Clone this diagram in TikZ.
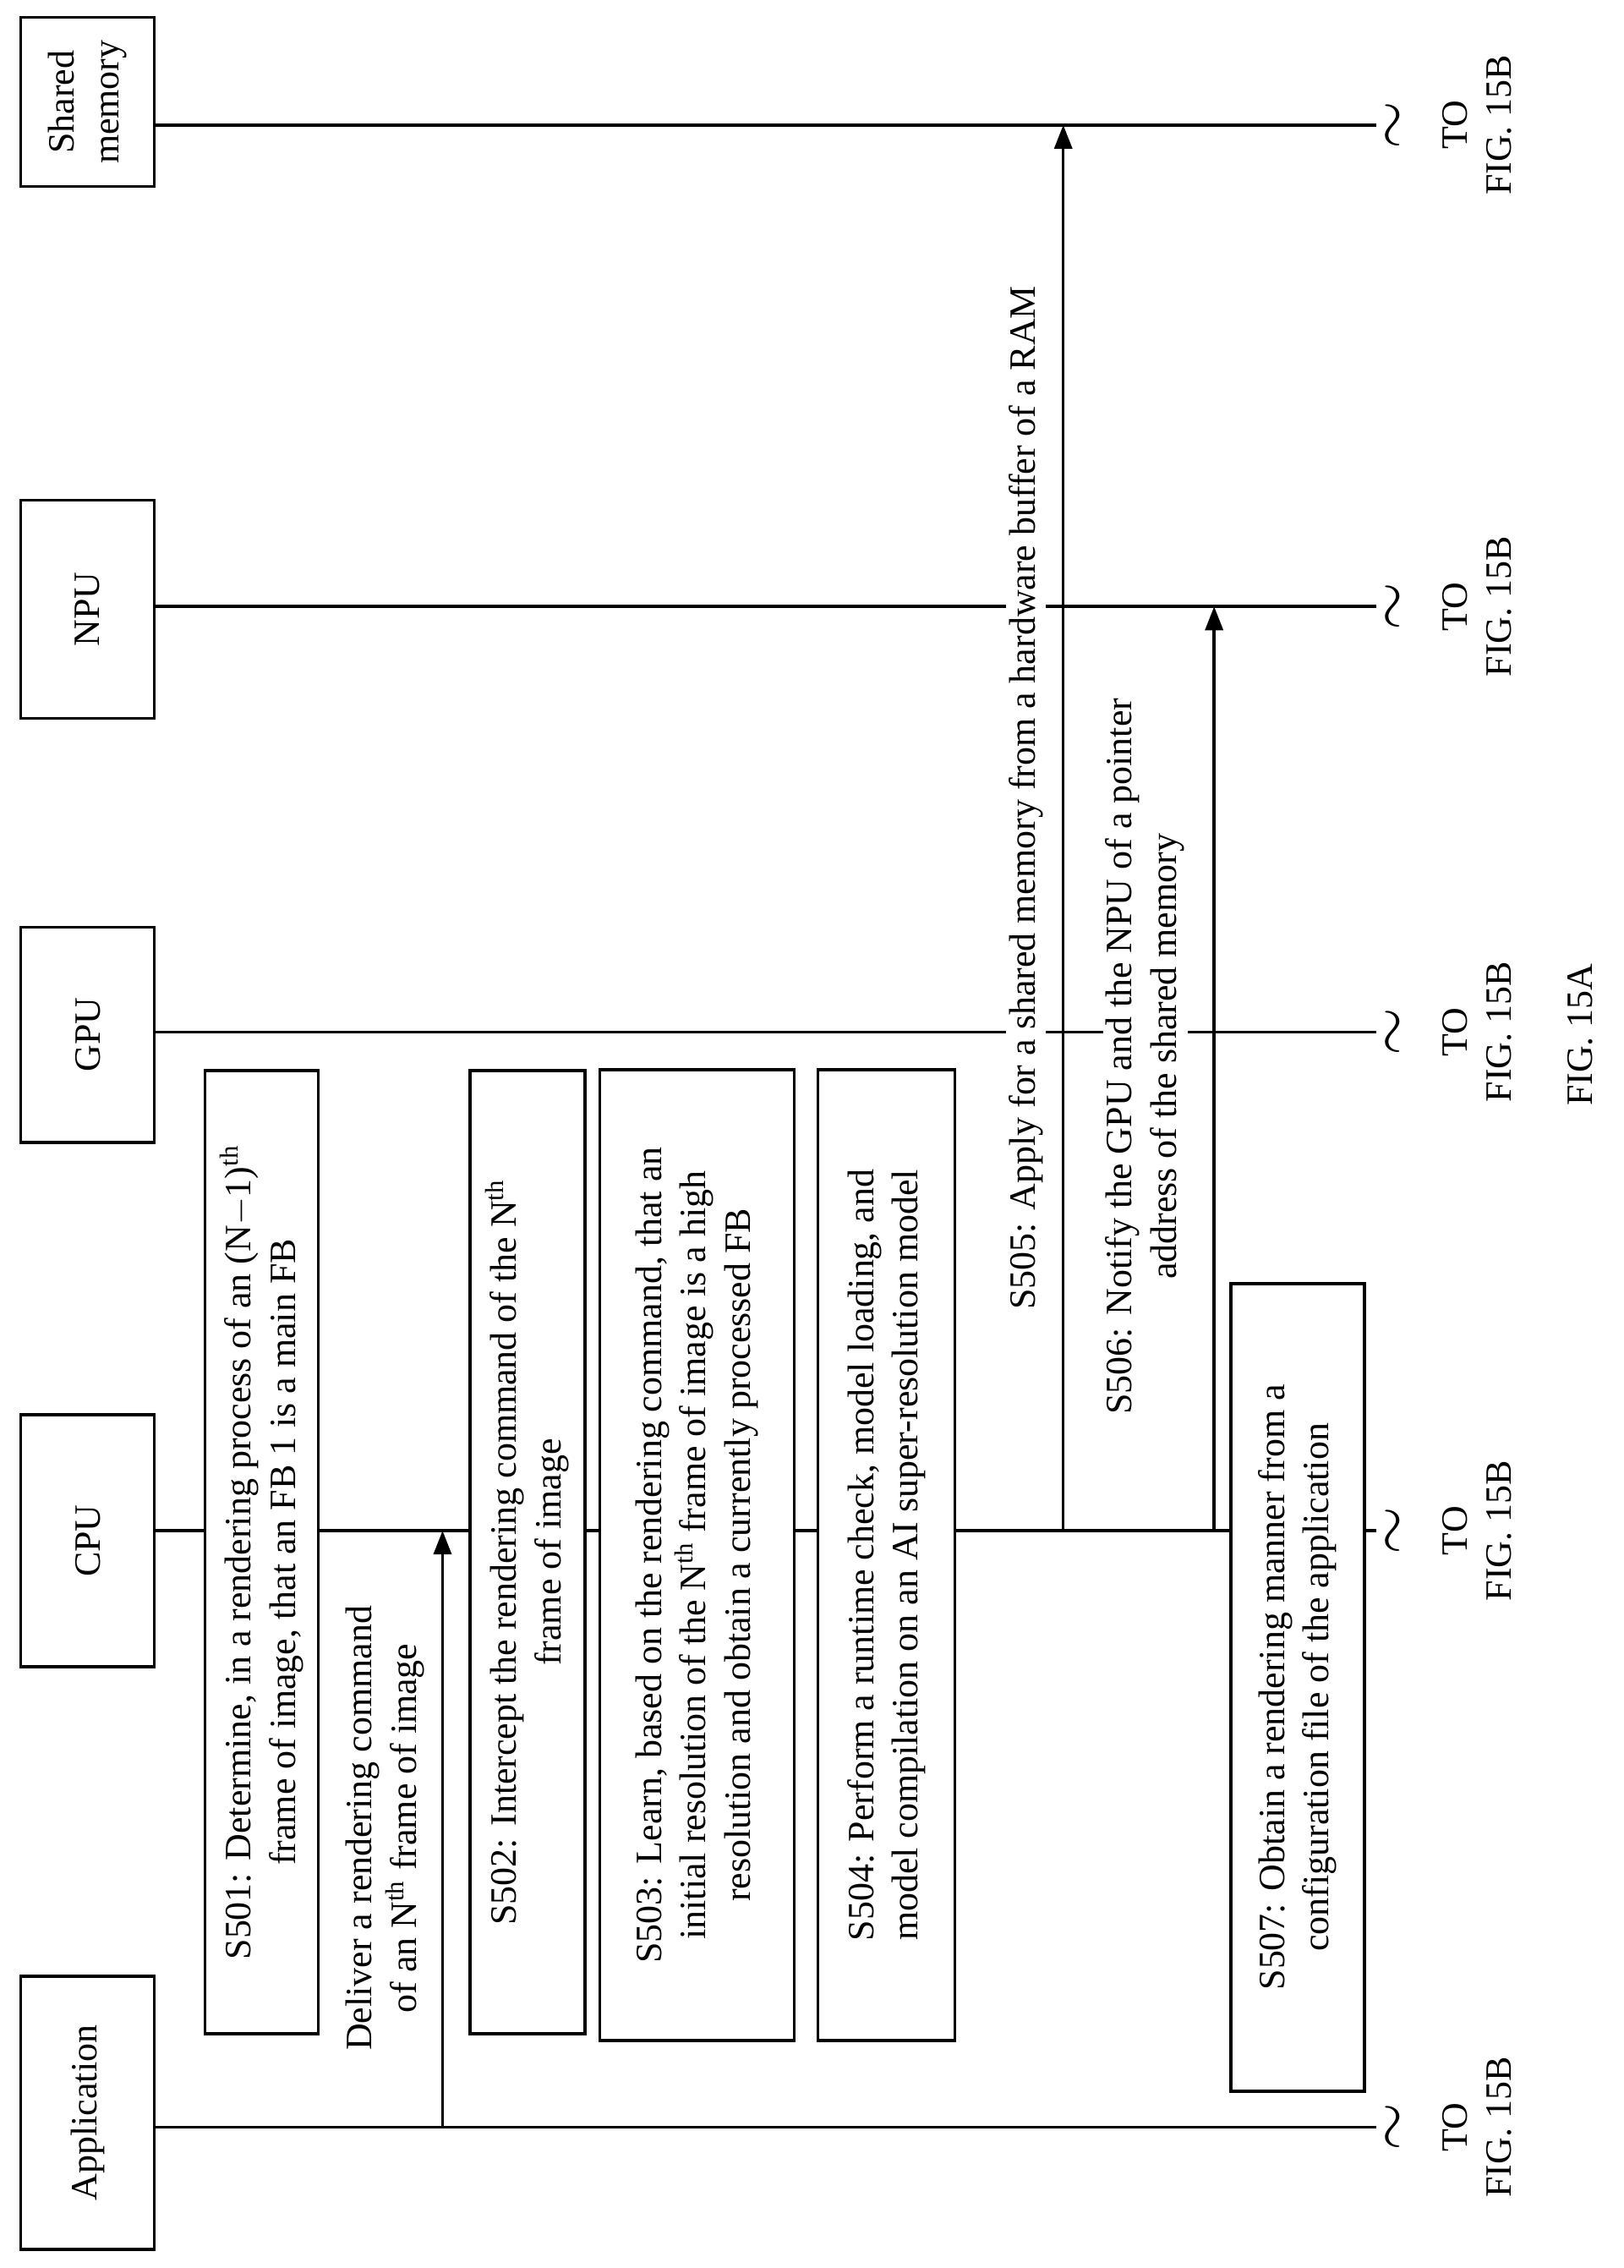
\documentclass[tikz,border=0pt]{standalone}
\usepackage{fontspec}
\setmainfont{Liberation Serif}
\usetikzlibrary{arrows.meta}
\begin{document}
\begin{tikzpicture}[x=0.017cm,y=-0.017cm,line width=1pt,font=\fontsize{12.5}{15}\selectfont,
  unit/.style={draw,rotate=90,minimum height=1.58cm,align=center},
  etape/.style={draw,fill=white,rotate=90,align=center,inner sep=2pt},
  lbl/.style={rotate=90,align=center,fill=white,inner sep=1pt},
  msg/.style={-{Triangle[length=8pt,width=6pt]}}]
\useasboundingbox (0,0) rectangle (1130,1578);

% les entites
\node[unit,minimum width=3.23cm] (app) at (61,1470) {Application};
\node[unit,minimum width=2.98cm] (cpu) at (61,1072) {CPU};
\node[unit,minimum width=2.55cm] (gpu) at (61,720) {GPU};
\node[unit,minimum width=2.58cm] (npu) at (61,424) {NPU};
\node[unit,minimum width=2.0cm] (shm) at (61,71) {Shared\\memory};

% les lignes de vie
\foreach \n/\y in {app/1480,cpu/1065,gpu/718,npu/422,shm/87}{
  \coordinate (\n-end) at (958,\y);
  \draw (\n.south |- \n-end) -- (\n-end);
  \node[rotate=90] (\n-t) at (972,\y) {\huge$\sim$};
  \node[rotate=90,align=center] (\n-to) at (1028,\y) {TO\\FIG. 15B};
}

% les etapes
\node[etape,minimum width=11.39cm,minimum height=1.34cm] (s501) at (182,1080)
  {S501: Determine, in a rendering process of an (N$-$1)$^{\mathrm{th}}$\\frame of image, that an FB 1 is a main FB};
\node[etape,minimum width=11.39cm,minimum height=1.36cm] (s502) at (367,1080)
  {S502: Intercept the rendering command of the N$^{\mathrm{th}}$\\frame of image};
\node[etape,minimum width=11.48cm,minimum height=2.3cm] (s503) at (485,1082)
  {S503: Learn, based on the rendering command, that an\\initial resolution of the N$^{\mathrm{th}}$ frame of image is a high\\resolution and obtain a currently processed FB};
\node[etape,minimum width=11.48cm,minimum height=1.62cm] (s504) at (617,1082)
  {S504: Perform a runtime check, model loading, and\\model compilation on an AI super-resolution model};
\node[etape,minimum width=9.55cm,minimum height=1.58cm] (s507) at (903,1174)
  {S507: Obtain a rendering manner from a\\configuration file of the application};

% les messages
\coordinate (a1) at (308,1480);
\coordinate (a5) at (740,1065);
\coordinate (a6) at (845,1065);
\draw[msg] (a1) -- (a1 |- cpu-end);
\draw[msg] (a5) -- (a5 |- shm-end);
\draw[msg] (a6) -- (a6 |- npu-end);
\node[lbl] (l1) at (268,1272) {Deliver a rendering command\\of an N$^{\mathrm{th}}$ frame of image};
\node[lbl] (l5) at (714,555) {S505: Apply for a shared memory from a hardware buffer of a RAM};
\node[lbl] (l6) at (797,735) {S506: Notify the GPU and the NPU of a pointer\\address of the shared memory};

\node[rotate=90] (fig) at (1100,720) {FIG. 15A};
\end{tikzpicture}
\end{document}
